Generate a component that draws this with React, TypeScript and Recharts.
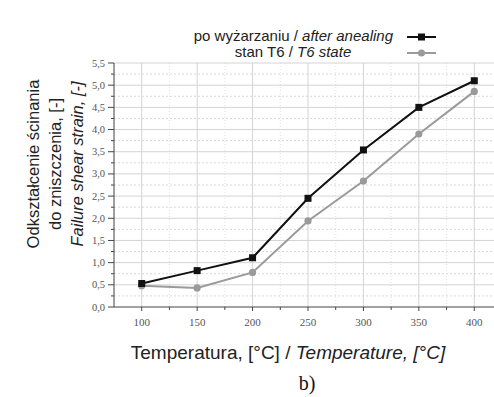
import React from "react";
import { LineChart, Line, XAxis, YAxis, ReferenceLine } from "recharts";

// Temperatura [°C] i odkształcenie ścinania do zniszczenia [-]
const temps = [100, 150, 200, 250, 300, 350, 400];
const afterAnnealing = [0.53, 0.82, 1.11, 2.45, 3.54, 4.5, 5.1];
const t6State = [0.48, 0.43, 0.78, 1.94, 2.84, 3.9, 4.86];

const xMajor = [100, 150, 200, 250, 300, 350, 400];
const xMinor = [75, 125, 175, 225, 275, 325, 375];
const xTicks = [100, 125, 150, 175, 200, 225, 250, 275, 300, 325, 350, 375, 400];
const yMajor = [0, 0.5, 1, 1.5, 2, 2.5, 3, 3.5, 4, 4.5, 5, 5.5];
const yMinor = [0.25, 0.75, 1.25, 1.75, 2.25, 2.75, 3.25, 3.75, 4.25, 4.75, 5.25];
const yTicks = [0, 0.25, 0.5, 0.75, 1, 1.25, 1.5, 1.75, 2, 2.25, 2.5, 2.75, 3, 3.25, 3.5, 3.75, 4, 4.25, 4.5, 4.75, 5, 5.25, 5.5];

const rows = temps.map((t, i) => ({ t, a: afterAnnealing[i], b: t6State[i] }));

const SANS = "'Liberation Sans', Arial, sans-serif";
const SERIF = "'Liberation Serif', 'Times New Roman', serif";
const AXIS = "#444";

const isMajorY = (v: number) => yMajor.includes(v);
const isMajorX = (v: number) => xMajor.includes(v);

function YTick({ x, y, payload }: any) {
  const v = payload.value;
  const major = isMajorY(v);
  return (
    <g>
      <line x1={x - (major ? 6 : 3)} x2={x} y1={y} y2={y} stroke={AXIS} strokeWidth={1} />
      {major && (
        <text x={x - 9} y={y} dy={3.5} textAnchor="end" fontFamily={SERIF} fontSize={10.5} fill="#555">
          {v.toFixed(1).replace(".", ",")}
        </text>
      )}
    </g>
  );
}

function XTick({ x, y, payload }: any) {
  const v = payload.value;
  const major = isMajorX(v);
  return (
    <g>
      <line x1={x} x2={x} y1={y} y2={y + (major ? 4 : 3)} stroke={AXIS} strokeWidth={1} />
      {major && (
        <text x={x} y={y + 19} textAnchor="middle" fontFamily={SERIF} fontSize={11} fill="#555">
          {v}
        </text>
      )}
    </g>
  );
}

const Square = ({ cx, cy }: any) => <rect x={cx - 3.5} y={cy - 3.5} width={7} height={7} fill="#111" />;
const Circle = ({ cx, cy }: any) => <circle cx={cx} cy={cy} r={3.6} fill="#9a9a9a" />;

function YLabel() {
  return (
    <g fontFamily={SANS} fontSize={16.5} fill="#222">
      <text transform="translate(39,164) rotate(-90)" textAnchor="middle">Odkształcenie ścinania</text>
      <text transform="translate(61,164) rotate(-90)" textAnchor="middle">do zniszczenia, [-]</text>
      <text transform="translate(83,164) rotate(-90)" textAnchor="middle" fontStyle="italic">Failure shear strain, [-]</text>
    </g>
  );
}

export default function App() {
  return (
    <div style={{ position: "absolute", left: 0, top: 0, width: 494, height: 397, overflow: "hidden", background: "#fff" }}>
      <LineChart width={510} height={397} data={rows} margin={{ top: 63, right: 8, left: 54, bottom: 60 }}>
        {xMinor.map((v) => (
          <ReferenceLine key={"xm" + v} x={v} stroke="#e2e2e2" strokeDasharray="1 2" />
        ))}
        {yMinor.map((v) => (
          <ReferenceLine key={"ym" + v} y={v} stroke="#d8d8d8" strokeDasharray="2 2" />
        ))}
        {xMajor.map((v) => (
          <ReferenceLine key={"xM" + v} x={v} stroke="#d4d4d4" />
        ))}
        {yMajor.slice(1).map((v) => (
          <ReferenceLine key={"yM" + v} y={v} stroke="#d4d4d4" />
        ))}
        <XAxis
          dataKey="t" type="number" domain={[75, 425]} ticks={xTicks} interval={0}
          height={30} tickSize={0} tickMargin={0} tickLine={false}
          axisLine={{ stroke: AXIS }} tick={<XTick />}
        />
        <YAxis
          type="number" domain={[0, 5.5]} ticks={yTicks} interval={0}
          width={60} tickSize={0} tickMargin={0} tickLine={false}
          axisLine={{ stroke: AXIS }} tick={<YTick />}
        />
        <Line dataKey="b" stroke="#9a9a9a" strokeWidth={2} dot={<Circle />} activeDot={false} isAnimationActive={false} />
        <Line dataKey="a" stroke="#111" strokeWidth={2} dot={<Square />} activeDot={false} isAnimationActive={false} />
        <YLabel />
        <text x={288} y={359} textAnchor="middle" fontFamily={SANS} fontSize={19} fill="#222">
          Temperatura, [°C] / <tspan fontStyle="italic">Temperature, [°C]</tspan>
        </text>
        <text x={307} y={390} textAnchor="middle" fontFamily={SERIF} fontSize={20} fill="#111">b)</text>
      </LineChart>
      <div style={{ position: "absolute", left: 160, top: 28, width: 246, fontFamily: SANS, fontSize: 15, color: "#222", lineHeight: "16px", textAlign: "center" }}>
        <div style={{ textAlign: "right", paddingRight: 13 }}>po wyżarzaniu / <i>after anealing</i></div>
        <div style={{ paddingLeft: 20 }}>stan T6 / <i>T6 state</i></div>
      </div>
      <svg style={{ position: "absolute", left: 405, top: 28 }} width={34} height={34}>
        <line x1={2} x2={31} y1={9} y2={9} stroke="#111" strokeWidth={2} />
        <rect x={13} y={5.5} width={7} height={7} fill="#111" />
        <line x1={2} x2={31} y1={25} y2={25} stroke="#9a9a9a" strokeWidth={2} />
        <circle cx={16.5} cy={25} r={3.5} fill="#9a9a9a" />
      </svg>
    </div>
  );
}
